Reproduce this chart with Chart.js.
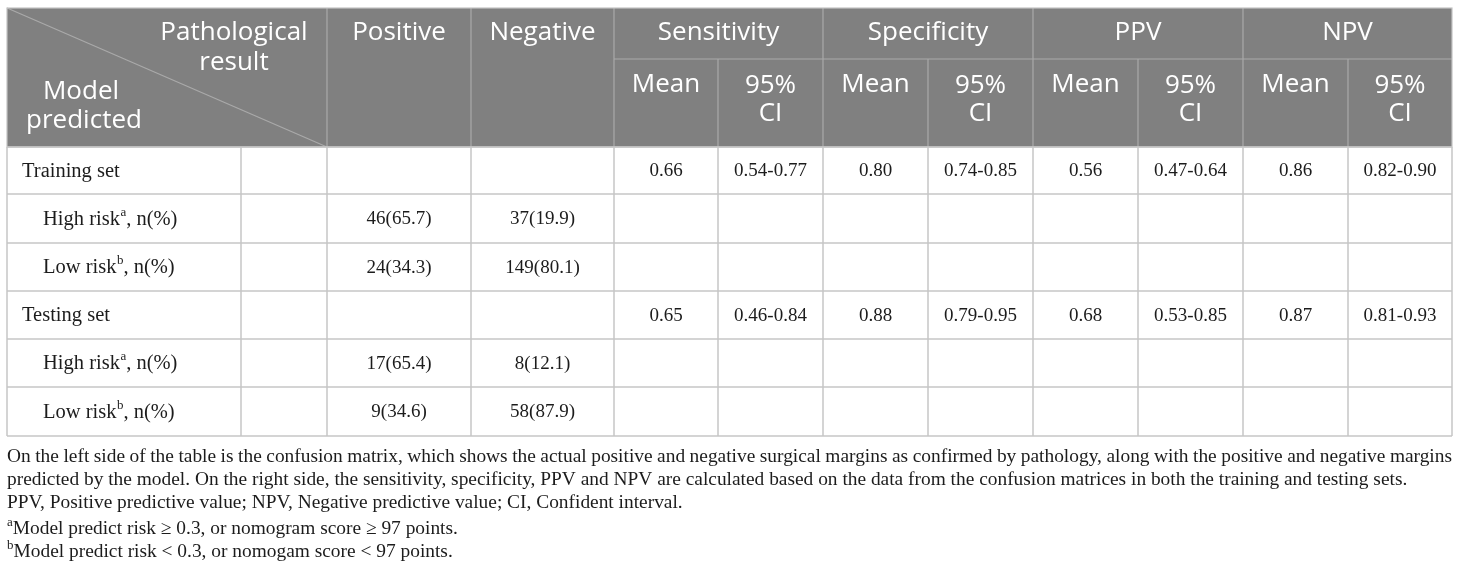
<!DOCTYPE html>
<html>
<head>
<meta charset="utf-8">
<script src="https://cdn.jsdelivr.net/npm/chart.js@4.4.1/dist/chart.umd.min.js"></script>
<style>
  html, body { margin: 0; padding: 0; background: #fff; }
  #wrap { width: 1460px; height: 572px; }
</style>
</head>
<body>
<div id="wrap"><canvas id="tableChart" width="1460" height="572"></canvas></div>
<script>
// table content
const rowLabels = ['Training set', 'High risk', 'Low risk', 'Testing set', 'High risk', 'Low risk'];
const rowSup = ['', 'a', 'b', '', 'a', 'b'];
const rowIsGroup = [true, false, false, true, false, false];

// confusion matrix counts, sub rows only (train high, train low, test high, test low)
const positiveN = [46, 24, 17, 9];
const positivePct = [65.7, 34.3, 65.4, 34.6];
const negativeN = [37, 149, 8, 58];
const negativePct = [19.9, 80.1, 12.1, 87.9];

const metrics = ['Sensitivity', 'Specificity', 'PPV', 'NPV'];
const trainingMean = [0.66, 0.80, 0.56, 0.86];
const trainingLow = [0.54, 0.74, 0.47, 0.82];
const trainingHigh = [0.77, 0.85, 0.64, 0.90];
const testingMean = [0.65, 0.88, 0.68, 0.87];
const testingLow = [0.46, 0.79, 0.53, 0.81];
const testingHigh = [0.84, 0.95, 0.85, 0.93];

const notes = [
  { sup: '', text: 'On the left side of the table is the confusion matrix, which shows the actual positive and negative surgical margins as confirmed by pathology, along with the positive and negative margins', justify: true },
  { sup: '', text: 'predicted by the model. On the right side, the sensitivity, specificity, PPV and NPV are calculated based on the data from the confusion matrices in both the training and testing sets.' },
  { sup: '', text: 'PPV, Positive predictive value; NPV, Negative predictive value; CI, Confident interval.' },
  { sup: 'a', text: 'Model predict risk \u2265 0.3, or nomogram score \u2265 97 points.' },
  { sup: 'b', text: 'Model predict risk < 0.3, or nomogam score < 97 points.' }
];

// layout (in scale units = pixels)
const colEdges = [7, 241, 327, 471, 614, 718, 823, 928, 1033, 1138, 1243, 1348, 1452];
const headTop = 8, headSplit = 59, headBottom = 147;
const rowEdges = [147, 194, 243, 291, 339, 387, 436];
const noteY = [457, 480, 503, 529, 552];

const SANS = '"Open Sans", "Noto Sans", sans-serif';
const SERIF = '"Liberation Serif", "DejaVu Serif", serif';
const HEAD_FONT = '26px ' + SANS;
const LABEL_FONT = '20.5px ' + SERIF;
const NUM_FONT = '19px ' + SERIF;
const NOTE_FONT = '19.4px ' + SERIF;

function cellText(ctx, s, x, y, align) {
  ctx.textAlign = align || 'center';
  ctx.fillText(s, x, y);
}

const tablePlugin = {
  id: 'tablePlugin',
  afterDraw(chart) {
    const ctx = chart.ctx;
    const X = v => chart.scales.x.getPixelForValue(v);
    const Y = v => chart.scales.y.getPixelForValue(v);
    const L = X(colEdges[0]), R = X(colEdges[colEdges.length - 1]);

    ctx.save();
    // header block
    ctx.fillStyle = '#808080';
    ctx.fillRect(L, Y(headTop), R - L, Y(headBottom) - Y(headTop));

    ctx.strokeStyle = '#a9a9a9';
    ctx.lineWidth = 1.2;
    ctx.beginPath();
    [2, 3, 4, 6, 8, 10].forEach(i => {
      ctx.moveTo(X(colEdges[i]), Y(headTop));
      ctx.lineTo(X(colEdges[i]), Y(headBottom));
    });
    [5, 7, 9, 11].forEach(i => {
      ctx.moveTo(X(colEdges[i]), Y(headSplit));
      ctx.lineTo(X(colEdges[i]), Y(headBottom));
    });
    ctx.moveTo(X(colEdges[4]), Y(headSplit));
    ctx.lineTo(R, Y(headSplit));
    ctx.moveTo(L, Y(headTop));
    ctx.lineTo(X(colEdges[2]), Y(headBottom));
    ctx.stroke();

    // header outline
    ctx.strokeStyle = '#c4c4c4';
    ctx.strokeRect(L, Y(headTop), R - L, Y(headBottom) - Y(headTop));

    // body grid
    ctx.strokeStyle = '#c6c6c6';
    ctx.lineWidth = 1.5;
    ctx.beginPath();
    rowEdges.forEach(r => {
      ctx.moveTo(L, Y(r));
      ctx.lineTo(R, Y(r));
    });
    colEdges.forEach(c => {
      ctx.moveTo(X(c), Y(rowEdges[0]));
      ctx.lineTo(X(c), Y(rowEdges[rowEdges.length - 1]));
    });
    ctx.stroke();

    // header text
    ctx.fillStyle = '#ffffff';
    ctx.font = HEAD_FONT;
    ctx.textBaseline = 'middle';
    cellText(ctx, 'Pathological', X(234), Y(33));
    cellText(ctx, 'result', X(234), Y(63));
    cellText(ctx, 'Model', X(81), Y(92));
    cellText(ctx, 'predicted', X(84), Y(121));
    const mid = (a, b) => X((colEdges[a] + colEdges[b]) / 2);
    cellText(ctx, 'Positive', mid(2, 3), Y(33));
    cellText(ctx, 'Negative', mid(3, 4), Y(33));
    metrics.forEach((m, k) => {
      const c = 4 + k * 2;
      cellText(ctx, m, mid(c, c + 2), Y(33));
      cellText(ctx, 'Mean', mid(c, c + 1), Y(85));
      cellText(ctx, '95%', mid(c + 1, c + 2), Y(86));
      cellText(ctx, 'CI', mid(c + 1, c + 2), Y(114));
    });

    // body text
    ctx.fillStyle = '#1c1c1c';
    let sub = 0, grp = 0;
    rowLabels.forEach((lab, r) => {
      const cy = Y((rowEdges[r] + rowEdges[r + 1]) / 2) + 1;
      ctx.font = LABEL_FONT;
      ctx.textAlign = 'left';
      if (rowIsGroup[r]) {
        ctx.fillText(lab, X(22), cy);
        const mean = grp === 0 ? trainingMean : testingMean;
        const lo = grp === 0 ? trainingLow : testingLow;
        const hi = grp === 0 ? trainingHigh : testingHigh;
        ctx.font = NUM_FONT;
        metrics.forEach((m, k) => {
          const c = 4 + k * 2;
          cellText(ctx, mean[k].toFixed(2), mid(c, c + 1), cy);
          cellText(ctx, lo[k].toFixed(2) + '-' + hi[k].toFixed(2), mid(c + 1, c + 2), cy);
        });
        grp++;
      } else {
        const x0 = X(43);
        ctx.fillText(lab, x0, cy);
        let w = ctx.measureText(lab).width;
        ctx.font = '13px ' + SERIF;
        ctx.fillText(rowSup[r], x0 + w + 0.5, cy - 7);
        w += ctx.measureText(rowSup[r]).width + 0.5;
        ctx.font = LABEL_FONT;
        ctx.fillText(', n(%)', x0 + w, cy);
        ctx.font = NUM_FONT;
        cellText(ctx, positiveN[sub] + '(' + positivePct[sub].toFixed(1) + ')', mid(2, 3), cy);
        cellText(ctx, negativeN[sub] + '(' + negativePct[sub].toFixed(1) + ')', mid(3, 4), cy);
        sub++;
      }
    });

    // footnotes
    ctx.fillStyle = '#1c1c1c';
    notes.forEach((n, i) => {
      const y = Y(noteY[i]);
      let x = L;
      ctx.textAlign = 'left';
      if (n.sup) {
        ctx.font = '13px ' + SERIF;
        ctx.fillText(n.sup, x, y - 6);
        x += ctx.measureText(n.sup).width;
      }
      ctx.font = NOTE_FONT;
      if (n.justify) {
        const words = n.text.split(' ');
        const total = words.reduce((s, wd) => s + ctx.measureText(wd).width, 0);
        const gap = (R - L - total) / (words.length - 1);
        words.forEach(wd => {
          ctx.fillText(wd, x, y);
          x += ctx.measureText(wd).width + gap;
        });
      } else {
        ctx.fillText(n.text, x, y);
      }
    });
    ctx.restore();
  }
};

new Chart(document.getElementById('tableChart'), {
  type: 'scatter',
  data: { datasets: [{ data: [], pointRadius: 0 }] },
  options: {
    responsive: false,
    animation: false,
    layout: { padding: 0 },
    plugins: { legend: { display: false }, tooltip: { enabled: false } },
    scales: {
      x: { type: 'linear', min: 0, max: 1460, display: false },
      y: { type: 'linear', min: 0, max: 572, reverse: true, display: false }
    }
  },
  plugins: [tablePlugin]
});
</script>
</body>
</html>
